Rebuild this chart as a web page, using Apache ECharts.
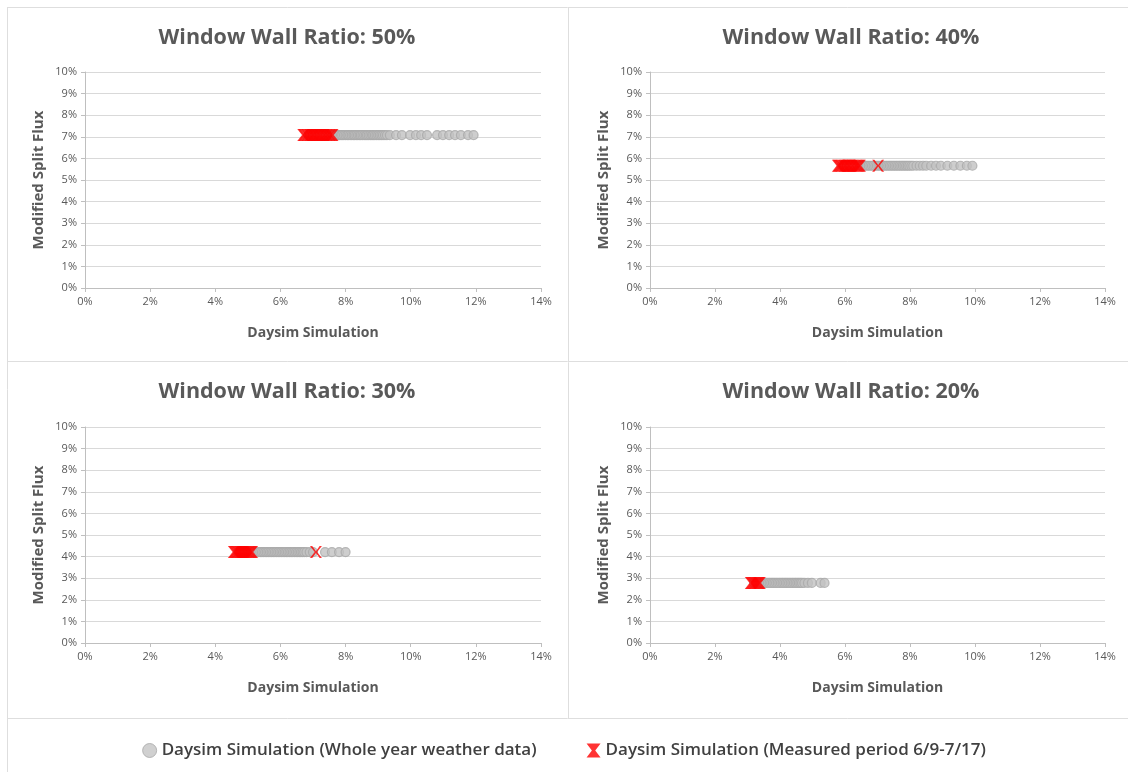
<!DOCTYPE html>
<html>
<head>
<meta charset="utf-8">
<title>Window Wall Ratio – Modified Split Flux vs Daysim</title>
<script src="https://cdn.jsdelivr.net/npm/echarts@6/dist/echarts.min.js"></script>
<style>
  html, body { margin: 0; padding: 0; background: #ffffff; }
  #chart { width: 1128px; height: 772px; }
</style>
</head>
<body>
<div id="chart"></div>
<script>
// Panel titles (window-to-wall ratio per case)
const panelTitles = ['Window Wall Ratio: 50%', 'Window Wall Ratio: 40%', 'Window Wall Ratio: 30%', 'Window Wall Ratio: 20%'];

// Modified split flux result for each case (%), one value per panel
const splitFlux = [7.08, 5.66, 4.21, 2.78];

// Daysim daylight factor (%), whole-year weather data
const wwr50Year = [6.85, 6.92, 6.99, 7.06, 7.13, 7.20, 7.27, 7.34, 7.41, 7.48, 7.55, 7.61, 7.66, 7.71, 7.76, 7.81, 7.86, 7.90, 7.95, 8.00, 8.05, 8.09, 8.14, 8.19, 8.24, 8.28, 8.33, 8.38, 8.43, 8.47, 8.52, 8.57, 8.62, 8.66, 8.71, 8.76, 8.81, 8.85, 8.90, 8.95, 9.00, 9.05, 9.10, 9.15, 9.21, 9.27, 9.36, 9.55, 9.73, 9.98, 10.16, 10.32, 10.50, 10.81, 10.99, 11.18, 11.36, 11.54, 11.76, 11.93];
const wwr40Year = [5.90, 5.98, 6.06, 6.14, 6.22, 6.30, 6.38, 6.46, 6.53, 6.58, 6.63, 6.68, 6.73, 6.78, 6.83, 6.88, 6.93, 6.98, 7.03, 7.08, 7.13, 7.18, 7.23, 7.28, 7.33, 7.38, 7.43, 7.48, 7.53, 7.58, 7.63, 7.68, 7.73, 7.78, 7.83, 7.88, 7.93, 7.98, 8.04, 8.10, 8.20, 8.30, 8.40, 8.50, 8.65, 8.80, 8.95, 9.15, 9.35, 9.55, 9.75, 9.92];
const wwr30Year = [4.70, 4.80, 4.90, 5.00, 5.10, 5.20, 5.28, 5.33, 5.38, 5.43, 5.48, 5.53, 5.58, 5.63, 5.68, 5.73, 5.78, 5.83, 5.88, 5.93, 5.98, 6.03, 6.08, 6.13, 6.18, 6.23, 6.28, 6.33, 6.38, 6.43, 6.48, 6.53, 6.58, 6.63, 6.68, 6.73, 6.80, 6.90, 7.00, 7.37, 7.58, 7.80, 8.00];
const wwr20Year = [3.20, 3.30, 3.40, 3.48, 3.53, 3.58, 3.63, 3.68, 3.73, 3.78, 3.83, 3.88, 3.93, 3.98, 4.03, 4.08, 4.13, 4.18, 4.23, 4.28, 4.33, 4.38, 4.43, 4.48, 4.53, 4.58, 4.63, 4.68, 4.75, 4.86, 4.98, 5.25, 5.37];

// Daysim daylight factor (%), measured period 6/9-7/17
const wwr50Measured = [6.70, 6.74, 6.79, 6.83, 6.88, 6.92, 6.97, 7.01, 7.05, 7.10, 7.14, 7.19, 7.23, 7.28, 7.33, 7.37, 7.42, 7.46, 7.51, 7.55, 7.60];
const wwr40Measured = [5.78, 5.82, 5.86, 5.90, 5.95, 5.99, 6.03, 6.08, 6.12, 6.16, 6.21, 6.25, 6.30, 6.34, 6.38, 6.42, 6.46, 7.02];
const wwr30Measured = [4.57, 4.61, 4.65, 4.69, 4.73, 4.77, 4.81, 4.85, 4.89, 4.93, 4.97, 5.01, 5.05, 5.09, 5.13, 7.09];
const wwr20Measured = [3.10, 3.14, 3.18, 3.22, 3.26, 3.30, 3.34, 3.38];

// Axis ticks
const xTicks = { min: 0, max: 14, interval: 2 };
const yTicks = { min: 0, max: 10, interval: 1 };

const yearName = 'Daysim Simulation (Whole year weather data)';
const measuredName = 'Daysim Simulation (Measured period 6/9-7/17)';

const yearSets = [wwr50Year, wwr40Year, wwr30Year, wwr20Year];
const measuredSets = [wwr50Measured, wwr40Measured, wwr30Measured, wwr20Measured];

const FONT = '"Open Sans", "Liberation Sans", sans-serif';
const TEXT = '#595959';

// Panel layout: plot rectangles in pixels
const plots = [
  { left: 85, top: 72, width: 456, height: 216 },
  { left: 650, top: 72, width: 455, height: 216 },
  { left: 85, top: 427, width: 456, height: 216 },
  { left: 650, top: 427, width: 455, height: 216 }
];

// Thin "x" marker and a solid bow-tie for the legend key
const crossPath = 'path://M0,0 L1.9,0 L5,4.3 L8.1,0 L10,0 L6,5 L10,10 L8.1,10 L5,5.7 L1.9,10 L0,10 L4,5 Z';
const bowtiePath = 'path://M0,0 L10,0 L6.2,5 L10,10 L0,10 L3.8,5 Z';

const grids = plots.map(p => ({ left: p.left, top: p.top, width: p.width, height: p.height, containLabel: false }));

const xAxes = plots.map((p, i) => ({
  type: 'value', gridIndex: i,
  min: xTicks.min, max: xTicks.max, interval: xTicks.interval,
  name: 'Daysim Simulation', nameLocation: 'middle', nameGap: 38,
  nameTextStyle: { fontFamily: FONT, fontSize: 14, fontWeight: 'bold', color: TEXT },
  axisLine: { show: true, onZero: false, lineStyle: { color: '#bfbfbf', width: 1 } },
  axisTick: { show: true, length: 4, lineStyle: { color: '#bfbfbf' } },
  axisLabel: { formatter: v => v + '%', fontFamily: FONT, fontSize: 11, color: TEXT, margin: 8 },
  splitLine: { show: false }
}));

const yAxes = plots.map((p, i) => ({
  type: 'value', gridIndex: i,
  min: yTicks.min, max: yTicks.max, interval: yTicks.interval,
  name: 'Modified Split Flux', nameLocation: 'middle', nameGap: 39, nameRotate: 90,
  nameTextStyle: { fontFamily: FONT, fontSize: 15, fontWeight: 'bold', color: TEXT },
  axisLine: { show: true, lineStyle: { color: '#bfbfbf', width: 1 } },
  axisTick: { show: true, length: 4, lineStyle: { color: '#bfbfbf' } },
  axisLabel: { formatter: v => v + '%', fontFamily: FONT, fontSize: 11, color: TEXT, margin: 8 },
  splitLine: { show: true, lineStyle: { color: '#d9d9d9', width: 1 } }
}));

const yearStyle = { color: '#c2c2c2', borderColor: '#a9a9a9', borderWidth: 1.2 };

const series = [];
yearSets.forEach((xs, i) => {
  series.push({
    name: yearName, type: 'scatter', xAxisIndex: i, yAxisIndex: i,
    symbol: 'circle', symbolSize: 9,
    itemStyle: yearStyle,
    data: xs.map(x => [x, splitFlux[i]]),
    z: 2
  });
});
measuredSets.forEach((xs, i) => {
  series.push({
    name: measuredName, type: 'scatter', xAxisIndex: i, yAxisIndex: i,
    symbol: crossPath, symbolSize: 12,
    itemStyle: { color: '#ff0000' },
    data: xs.map(x => [x, splitFlux[i]]),
    z: 3
  });
});

// Panel frame lines and titles
const frameColor = '#dedede';
const graphic = [
  { type: 'line', shape: { x1: 7, y1: 7.5, x2: 1128, y2: 7.5 }, style: { stroke: frameColor, lineWidth: 1 } },
  { type: 'line', shape: { x1: 7.5, y1: 7, x2: 7.5, y2: 772 }, style: { stroke: frameColor, lineWidth: 1 } },
  { type: 'line', shape: { x1: 568.5, y1: 7, x2: 568.5, y2: 718 }, style: { stroke: frameColor, lineWidth: 1 } },
  { type: 'line', shape: { x1: 7, y1: 361.5, x2: 1128, y2: 361.5 }, style: { stroke: frameColor, lineWidth: 1 } },
  { type: 'line', shape: { x1: 7, y1: 718.5, x2: 1128, y2: 718.5 }, style: { stroke: frameColor, lineWidth: 1 } }
];
const titleCenters = [[287, 38], [851, 38], [287, 392], [851, 392]];
panelTitles.forEach((t, i) => {
  graphic.push({
    type: 'text',
    style: {
      x: titleCenters[i][0], y: titleCenters[i][1], text: t,
      textAlign: 'center', textVerticalAlign: 'middle',
      font: 'bold 21.5px ' + FONT, fill: TEXT
    }
  });
});

const chart = echarts.init(document.getElementById('chart'), null, { renderer: 'canvas' });
chart.setOption({
  backgroundColor: '#ffffff',
  animation: false,
  grid: grids,
  xAxis: xAxes,
  yAxis: yAxes,
  series: series,
  graphic: graphic,
  legend: {
    data: [
      { name: yearName, icon: 'circle', itemStyle: { color: '#c4c4c4', borderColor: '#a8a8a8', borderWidth: 1 } },
      { name: measuredName, icon: bowtiePath, itemStyle: { color: '#ff0000' } }
    ],
    left: 'center', top: 737,
    itemWidth: 14, itemHeight: 14, itemGap: 50,
    textStyle: { fontFamily: FONT, fontSize: 17, color: '#404040', fontWeight: 600 }
  }
});
</script>
</body>
</html>
